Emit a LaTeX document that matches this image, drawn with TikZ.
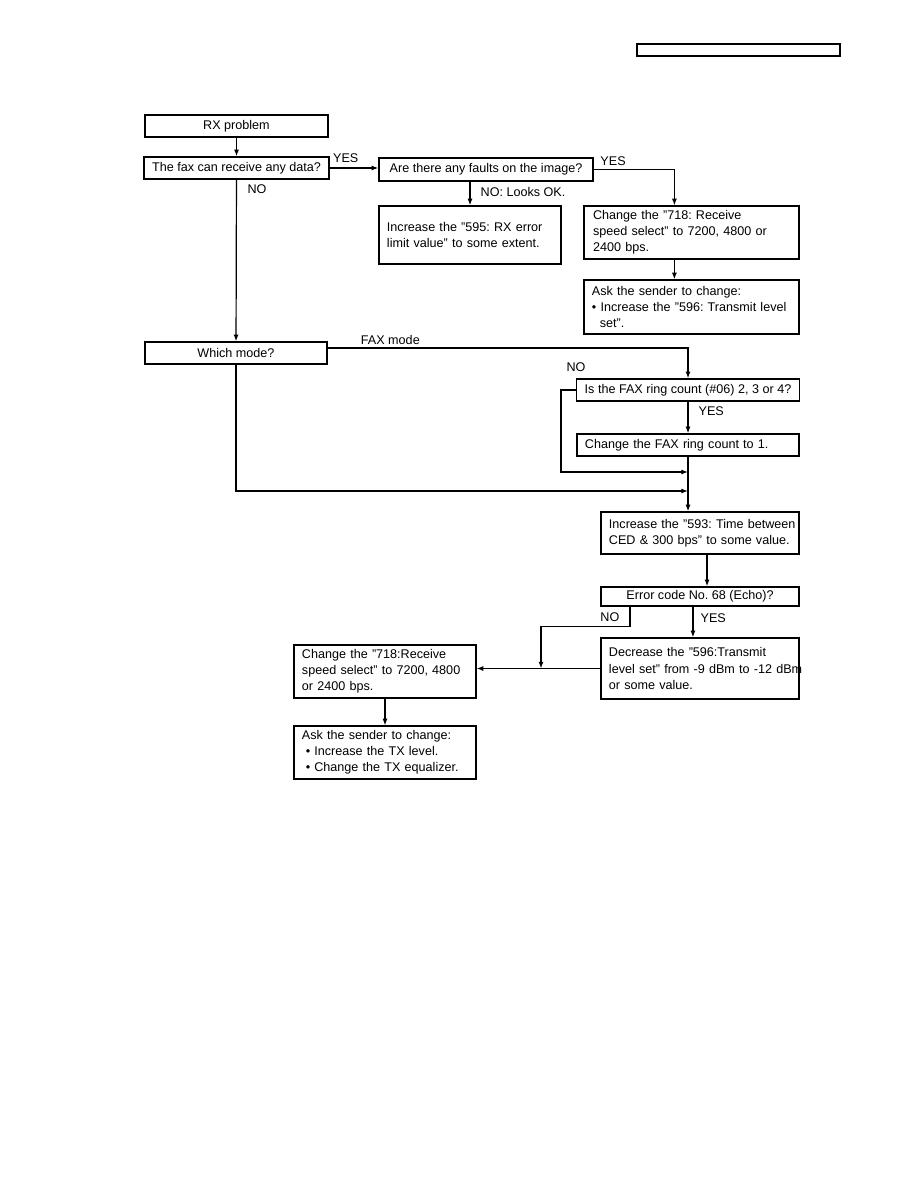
\documentclass[tikz,border=0pt]{standalone}
\usepackage{fontspec}
\setmainfont{Liberation Sans}
\usetikzlibrary{arrows.meta,positioning}

\begin{document}
\begin{tikzpicture}[
    x=0.6667pt, y=-0.6667pt,
    box/.style={draw, line width=0.9pt, font=\fontsize{8.4}{10.7}\selectfont\frenchspacing, inner xsep=5.3pt, inner ysep=0pt, align=left},
    cbox/.style={box, align=center},
    lbl/.style={font=\fontsize{8.4}{10.7}\selectfont\frenchspacing, inner sep=0pt},
    arrow/.style={-{Latex[length=4.5pt,width=3.4pt]}, line width=0.8pt}
]
    \path[use as bounding box, fill=white] (0,0) rectangle (918,1188);

    \node[cbox, minimum width=135.3pt, minimum height=8pt] (header) at (738.5,50) {};

    % left column, top
    \node[cbox, minimum width=122pt, minimum height=14.7pt] (rx) at (236.5,126) {RX problem};
    \node[cbox, minimum width=122pt, minimum height=14.7pt] (fax) at (236.5,168) {The fax can receive any data?};
    \node[cbox, minimum width=142.7pt, minimum height=15.3pt] (faults) at (486,169.5) {Are there any faults on the image?};
    \node[box, text width=110.7pt, minimum height=38.7pt] (inc595) at (470,235) {Increase the "595: RX error\\limit value" to some extent.};
    \node[box, inner xsep=6pt, text width=131.3pt, minimum height=35.3pt] (chg1) at (691.5,232.5) {Change the "718: Receive\\speed select" to 7200, 4800 or\\2400 bps.};
    \node[box, text width=132.7pt, minimum height=36pt] (ask1) at (691.5,307) {Ask the sender to change:\\• Increase the "596: Transmit level\\\hspace*{0.63em}set".};

    % mode branch
    \node[cbox, minimum width=121.3pt, minimum height=14.7pt] (which) at (236,353) {Which mode?};
    \node[cbox, minimum width=148pt, minimum height=14.7pt] (ring) at (688,390) {Is the FAX ring count (\#06) 2, 3 or 4?};
    \node[box, text width=137.4pt, minimum height=14.7pt] (chgring) at (688,445) {Change the FAX ring count to 1.};
    \coordinate (j1) at (688,472);
    \coordinate (j2) at (688,491);

    % lower part
    \node[box, text width=121.4pt, minimum height=28pt] (inc593) at (700,533) {\mbox{Increase the "593: Time between}\\CED \& 300 bps" to some value.};
    \node[cbox, minimum width=132pt, minimum height=12.7pt] (err) at (700,596.5) {Error code No. 68 (Echo)?};
    \node[box, text width=121.4pt, minimum height=40.7pt] (dec) at (700,668.5) {Decrease the "596:Transmit\\\mbox{level set" from -9 dBm to -12 dBm}\\or some value.};
    \node[box, text width=110.7pt, minimum height=35.3pt] (chg2) at (385,671.5) {Change the "718:Receive\\speed select" to 7200, 4800\\or 2400 bps.};
    \node[box, text width=110.7pt, minimum height=35.3pt] (ask2) at (385,752.5) {Ask the sender to change:\\\hspace*{0.3em}• Increase the TX level.\\\hspace*{0.3em}• Change the TX equalizer.};
    \coordinate (j3) at (541,668.5);

    \draw[arrow] (rx) -- (fax);
    \draw[arrow] (fax.east) -- node[lbl, pos=0, above right=3.3pt and 2pt] {YES} (fax.east -| faults.west);
    \draw[arrow] (faults.south -| inc595.north) -- node[lbl, pos=0.45, right=6.7pt] {NO: Looks OK.} (inc595);
    \draw[arrow] (faults.east) -| node[lbl, pos=0.12, above=2pt] {YES} ([xshift=60.7pt]chg1.north west);
    \draw[arrow] ([xshift=60.7pt]chg1.south west) -- ([xshift=60.7pt]ask1.north west);

    \draw[arrow] (fax) -- node[lbl, pos=0.06, right=7pt] {NO} (which);
    \draw[arrow] ([yshift=3.3pt]which.east) -| node[lbl, pos=0.087, above=2pt] {FAX mode} (ring.north);
    \node[lbl, above=4pt of ring.north west] (nolbl) {NO};
    \draw[arrow] (ring.west) -- ++(-15,0) |- (j1);
    \draw[arrow] (ring) -- node[lbl, pos=0.3, right=6.7pt] {YES} (chgring);
    \draw[arrow] (which.south) |- (j2);
    \draw[arrow] (chgring) -- (inc593.north -| chgring);

    \draw[arrow] ([xshift=4.7pt]inc593.south) -- ([xshift=4.7pt]err.north);
    \draw[arrow] ([xshift=-4.7pt]err.south) -- node[lbl, pos=0.37, right=4.7pt] {YES} ([xshift=-4.7pt]dec.north);
    \draw[arrow] ([xshift=-46.7pt]err.south) -- node[lbl, left=6.7pt] {NO} ++(0,20) -| (j3);
    \draw[arrow] (dec.west) -- (dec.west -| chg2.east);
    \draw[arrow] (chg2) -- (ask2);
\end{tikzpicture}
\end{document}
